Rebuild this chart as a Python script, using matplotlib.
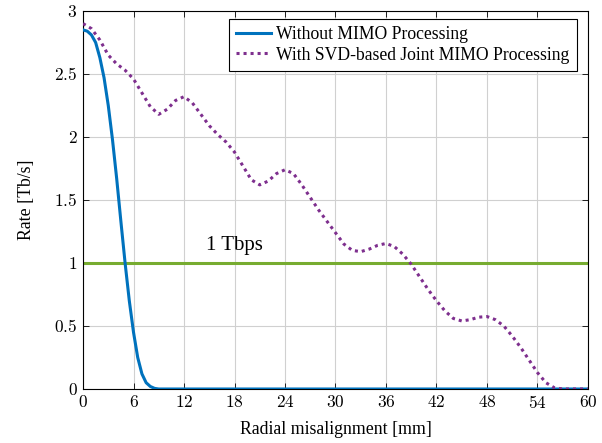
import matplotlib
matplotlib.use("Agg")
import matplotlib.pyplot as plt
from matplotlib.ticker import FuncFormatter

# Data
x_blue = [0, 0.5, 1, 1.5, 2, 2.5, 3, 3.5, 4, 4.5, 5, 5.5, 6, 6.5, 7, 7.5, 8, 8.5, 9, 60]
y_blue = [2.85, 2.84, 2.81, 2.75, 2.63, 2.47, 2.25, 1.98, 1.67, 1.33, 1.0, 0.70, 0.45,
          0.25, 0.12, 0.05, 0.02, 0.005, 0.0, 0.0]

x_purple = list(range(0, 58)) + [60]
y_purple = [2.90, 2.86, 2.77, 2.65, 2.58, 2.53, 2.46, 2.35, 2.24, 2.18,
            2.22, 2.29, 2.32, 2.27, 2.18, 2.09, 2.02, 1.96, 1.88, 1.77,
            1.66, 1.62, 1.65, 1.71, 1.74, 1.71, 1.62, 1.52, 1.42, 1.33,
            1.24, 1.15, 1.10, 1.09, 1.11, 1.14, 1.155, 1.13, 1.07, 0.99,
            0.89, 0.79, 0.70, 0.62, 0.56, 0.54, 0.55, 0.57, 0.575, 0.55,
            0.50, 0.42, 0.33, 0.23, 0.13, 0.05, 0.01, 0.0, 0.0]

threshold = 1.0
x_ticks = [0, 6, 12, 18, 24, 30, 36, 42, 48, 54, 60]
y_ticks = [0, 0.5, 1, 1.5, 2, 2.5, 3]

plt.rcParams['font.family'] = ['Liberation Serif', 'DejaVu Serif']
plt.rcParams['mathtext.fontset'] = 'cm'

fig = plt.figure(figsize=(6.02, 4.43), dpi=100)
ax = fig.add_axes([0.1379, 0.1219, 0.8388, 0.8533])

ax.plot(x_blue, y_blue, color='#0072BD', lw=2.2, label='Without MIMO Processing', zorder=3)
ax.plot(x_purple, y_purple, color='#7E2F8E', lw=2.2, linestyle=(0, (1, 1.3)),
        label='With SVD-based Joint MIMO Processing', zorder=4)
ax.axhline(threshold, color='#77AC30', lw=2.2, zorder=2)
ax.text(14.6, 1.10, '1 Tbps', fontsize=15, ha='left', va='baseline')

ax.set_xlim(0, 60)
ax.set_ylim(0, 3)
ax.set_xticks(x_ticks)
ax.set_yticks(y_ticks)
ax.xaxis.set_major_formatter(FuncFormatter(lambda v, p: f'${v:g}$'))
ax.yaxis.set_major_formatter(FuncFormatter(lambda v, p: f'${v:g}$'))
ax.tick_params(direction='in', top=True, right=True, labelsize=12.5, length=4, width=0.6)
ax.tick_params(axis='y', pad=4)
ax.tick_params(axis='x', pad=4)
ax.grid(True, color='#d0d0d0', lw=0.8)
ax.set_axisbelow(True)
for s in ax.spines.values():
    s.set_linewidth(0.8)

ax.set_xlabel('Radial misalignment [mm]', fontsize=12.8, labelpad=7)
ax.set_ylabel('Rate [Tb/s]', fontsize=12.8, labelpad=14)

leg = ax.legend(loc='upper right', bbox_to_anchor=(0.978, 0.979), fontsize=12.7,
                fancybox=False, edgecolor='black', framealpha=1, borderaxespad=0,
                handlelength=2.0, handletextpad=0.3, borderpad=0.4, labelspacing=0.2)
leg.get_frame().set_linewidth(0.8)

fig.savefig('out.png', dpi=100)
